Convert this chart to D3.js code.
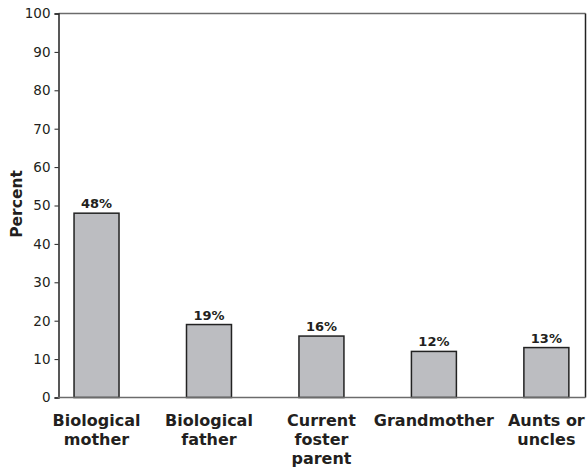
<!DOCTYPE html>
<html><head><meta charset="utf-8">
<script src="https://cdn.jsdelivr.net/npm/d3@7"></script>
<style>body{margin:0;background:#fff}svg{display:block}</style>
</head><body>
<script>
const categories = [["Biological","mother"],["Biological","father"],["Current","foster","parent"],["Grandmother"],["Aunts or","uncles"]];
const values = [48, 19, 16, 12, 13];
const valueLabels = ["48%","19%","16%","12%","13%"];
const yTicks = [0,10,20,30,40,50,60,70,80,90,100];

const W = 587, H = 467;
const svg = d3.select("body").append("svg").attr("width", W).attr("height", H);
const plotL = 58.5, plotR = 585.5, plotT = 13.5, plotB = 397.5;
const x = d3.scaleBand().domain(d3.range(values.length)).range([40.3, 602.6]).paddingInner(0.6).paddingOuter(0.3);
const y = d3.scaleLinear().domain([0,100]).range([plotB, plotT]);
const font = "'DejaVu Sans', sans-serif";

// frame top and right
svg.append("line").attr("x1",plotL).attr("x2",plotR).attr("y1",plotT).attr("y2",plotT).attr("stroke","#6b6b6b").attr("stroke-width",1.5);
svg.append("line").attr("x1",plotR).attr("x2",plotR).attr("y1",plotT).attr("y2",plotB).attr("stroke","#222").attr("stroke-width",1.5);

// bars
svg.selectAll("rect.bar").data(values).join("rect").attr("class","bar")
  .attr("x",(d,i)=>x(i)).attr("width",x.bandwidth())
  .attr("y",d=>y(d)).attr("height",d=>y(0)-y(d))
  .attr("fill","#bcbdc1").attr("stroke","#222").attr("stroke-width",1.5);

// value labels
svg.selectAll("text.val").data(values).join("text").attr("class","val")
  .attr("x",(d,i)=>x(i)+x.bandwidth()/2).attr("y",d=>y(d)-5)
  .attr("text-anchor","middle").attr("font-family",font).attr("font-weight","bold").attr("font-size",13).attr("fill","#231f20")
  .text((d,i)=>valueLabels[i]);

// y axis
const yAxis = d3.axisLeft(y).tickValues(yTicks).tickSize(4).tickPadding(4);
const ga = svg.append("g").attr("transform",`translate(${plotL},0)`).call(yAxis);
ga.select(".domain").attr("stroke","#222").attr("stroke-width",1.5);
ga.selectAll(".tick line").attr("stroke","#222");
ga.selectAll(".tick text").attr("font-family",font).attr("font-size",13.5).attr("fill","#231f20");

// x axis baseline
svg.append("line").attr("x1",plotL-0.75).attr("x2",plotR).attr("y1",plotB).attr("y2",plotB).attr("stroke","#6b6b6b").attr("stroke-width",1.5);

// category labels
const cl = svg.selectAll("text.cat").data(categories).join("text").attr("class","cat")
  .attr("text-anchor","middle").attr("font-family",font).attr("font-weight","bold").attr("font-size",16).attr("fill","#231f20");
cl.each(function(lines,i){
  const t = d3.select(this);
  lines.forEach((s,j)=>t.append("tspan").attr("x",x(i)+x.bandwidth()/2).attr("y",426+j*19).text(s));
});

// y label
svg.append("text").attr("transform","translate(22,204) rotate(-90)").attr("text-anchor","middle")
  .attr("font-family",font).attr("font-weight","bold").attr("font-size",15.5).attr("fill","#231f20").text("Percent");
</script>
</body></html>
